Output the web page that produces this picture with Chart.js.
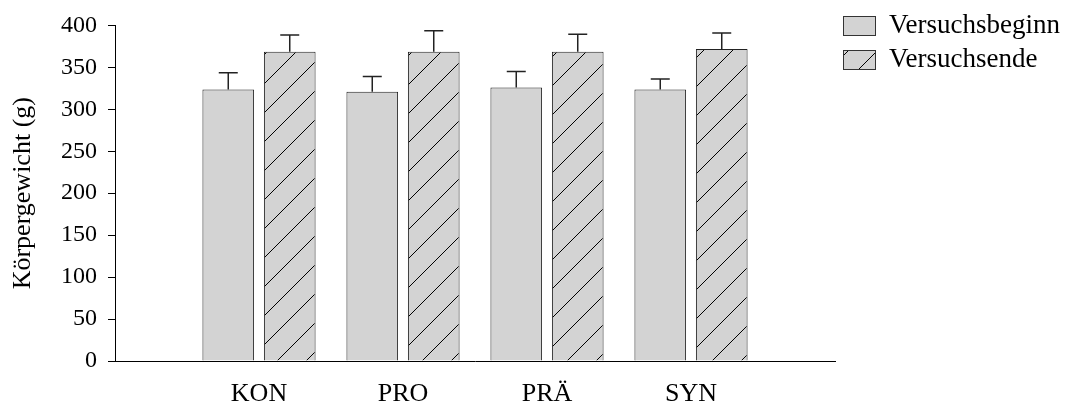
<!DOCTYPE html>
<html>
<head>
<meta charset="utf-8">
<script src="https://cdn.jsdelivr.net/npm/chart.js@4"></script>
<style>
  html, body { margin: 0; padding: 0; background: #fff; }
  #wrap { width: 1065px; height: 401px; }
</style>
</head>
<body>
<div id="wrap"><canvas id="chart" width="1065" height="401"></canvas></div>
<script>
const categories = ["KON", "PRO", "PRÄ", "SYN"];
const beginnValues = [323.5, 321, 326, 323.5];
const beginnErrors = [20, 18, 19, 12.5];
const endeValues = [368.5, 368.5, 368.5, 372];
const endeErrors = [20, 25, 21, 19];
const yTicks = [0, 50, 100, 150, 200, 250, 300, 350, 400];
const seriesNames = ["Versuchsbeginn", "Versuchsende"];

const FONT = "'Liberation Serif', 'Times New Roman', serif";
const GREY = "#d3d3d3";

// empty slot on each side so the groups sit at 1..4 of 0..5
const labels = ["", ...categories, ""];
const pad = (arr) => [null, ...arr, null];

function hatchPattern() {
  const s = 29;
  const c = document.createElement("canvas");
  c.width = s; c.height = s;
  const g = c.getContext("2d");
  g.fillStyle = GREY;
  g.fillRect(0, 0, s, s);
  g.strokeStyle = "#000";
  g.lineWidth = 1;
  g.beginPath();
  g.moveTo(-2, s + 2); g.lineTo(s + 2, -2);
  g.stroke();
  return g.createPattern(c, "repeat");
}
const hatch = hatchPattern();

const errorBars = {
  id: "errorBars",
  afterDatasetsDraw(chart) {
    const { ctx } = chart;
    const y = chart.scales.y;
    const errs = [pad(beginnErrors), pad(endeErrors)];
    ctx.save();
    ctx.strokeStyle = "#222";
    ctx.lineWidth = 1.5;
    chart.data.datasets.forEach((ds, di) => {
      chart.getDatasetMeta(di).data.forEach((bar, i) => {
        const v = ds.data[i];
        if (v == null) return;
        const top = y.getPixelForValue(v + errs[di][i]);
        ctx.beginPath();
        ctx.moveTo(bar.x, bar.y);
        ctx.lineTo(bar.x, top);
        ctx.moveTo(bar.x - 9.5, top);
        ctx.lineTo(bar.x + 9.5, top);
        ctx.stroke();
      });
    });
    ctx.restore();
  },
};

const sideLegend = {
  id: "sideLegend",
  afterDraw(chart) {
    const { ctx } = chart;
    ctx.save();
    chart.data.datasets.forEach((ds, i) => {
      const top = 16 + i * 34;
      ctx.fillStyle = ds.backgroundColor;
      ctx.fillRect(843, top, 32, 19);
      ctx.strokeStyle = "#333";
      ctx.lineWidth = 1;
      ctx.strokeRect(843.5, top + 0.5, 32, 19);
      ctx.fillStyle = "#000";
      ctx.font = `27px ${FONT}`;
      ctx.textBaseline = "middle";
      ctx.fillText(ds.label, 889, top + 10);
    });
    ctx.restore();
  },
};

new Chart(document.getElementById("chart"), {
  type: "bar",
  data: {
    labels,
    datasets: [
      { label: seriesNames[0], data: pad(beginnValues), backgroundColor: GREY, borderColor: "#222", borderWidth: 1 },
      { label: seriesNames[1], data: pad(endeValues), backgroundColor: hatch, borderColor: "#222", borderWidth: 1 },
    ],
  },
  options: {
    responsive: false,
    animation: false,
    categoryPercentage: 0.854,
    barPercentage: 0.84,
    layout: { padding: { left: 0, right: 230, top: 21, bottom: 0 } },
    plugins: { legend: { display: false }, tooltip: { enabled: false } },
    scales: {
      x: {
        offset: false,
        grid: { display: false },
        border: { display: true, color: "#000", width: 1 },
        ticks: { color: "#000", font: { family: FONT, size: 26 }, padding: 10, maxRotation: 0, autoSkip: false },
        afterFit(scale) { scale.height = 40; },
      },
      y: {
        min: 0,
        max: 400,
        afterBuildTicks(scale) { scale.ticks = yTicks.map(v => ({ value: v })); },
        grid: { display: true, drawOnChartArea: false, tickLength: 7, color: "#000" },
        border: { display: true, color: "#000", width: 1 },
        ticks: { color: "#000", font: { family: FONT, size: 24 }, padding: 11 },
        title: { display: true, text: "Körpergewicht (g)", color: "#000", font: { family: FONT, size: 26 }, padding: { top: 8, bottom: 0 } },
        afterFit(scale) { scale.width = 115; },
      },
    },
  },
  plugins: [errorBars, sideLegend],
});
</script>
</body>
</html>
